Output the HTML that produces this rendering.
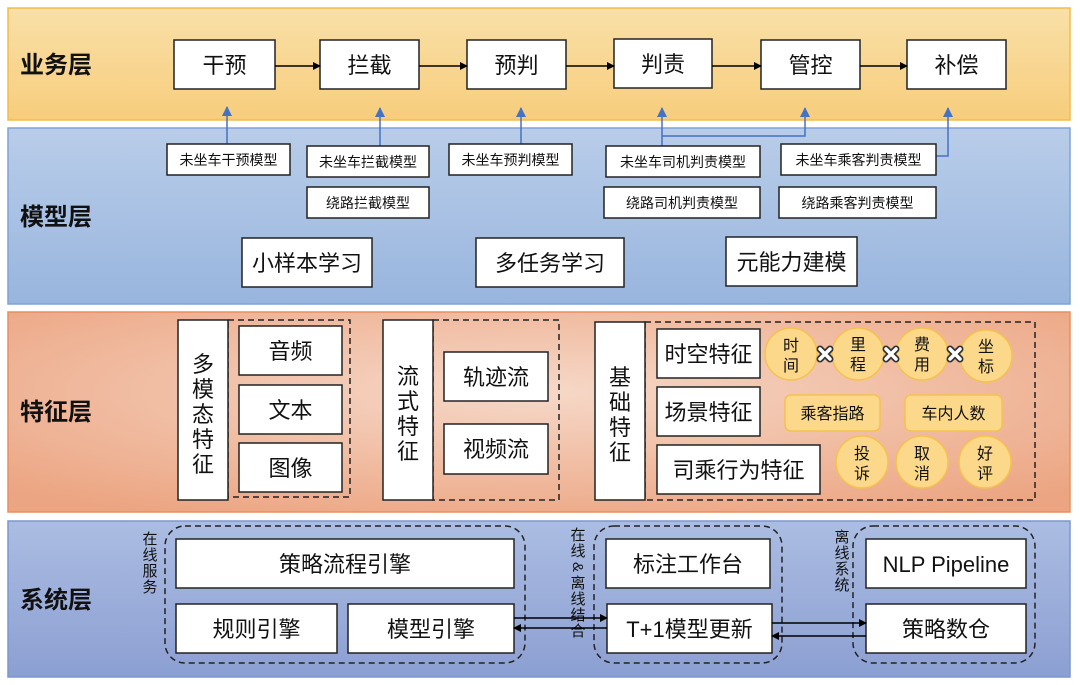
<!DOCTYPE html>
<html><head><meta charset="utf-8">
<style>
html,body{margin:0;padding:0;background:#fff;}
svg{display:block;}
text{font-family:"Liberation Sans","Noto Sans CJK SC",sans-serif;fill:#111;}
</style></head>
<body>
<svg width="1080" height="685" viewBox="0 0 1080 685" xmlns="http://www.w3.org/2000/svg">
<defs>
<linearGradient id="gY" x1="0" y1="0" x2="0" y2="1"><stop offset="0" stop-color="#f9e0a8"/><stop offset="1" stop-color="#f7cd7c"/></linearGradient>
<linearGradient id="gB" x1="0" y1="0" x2="0" y2="1"><stop offset="0" stop-color="#b9cde9"/><stop offset="1" stop-color="#98b5de"/></linearGradient>
<radialGradient id="gO" cx="0.5" cy="0.4" r="0.7"><stop offset="0" stop-color="#f6d8c8"/><stop offset="1" stop-color="#eca582"/></radialGradient>
<linearGradient id="gS" x1="0" y1="0" x2="0" y2="1"><stop offset="0" stop-color="#abbde2"/><stop offset="1" stop-color="#8c9fd2"/></linearGradient>
<marker id="ak" markerWidth="8" markerHeight="8" refX="7" refY="4" orient="auto" markerUnits="userSpaceOnUse"><path d="M0,0 L8,4 L0,8 z" fill="#000"/></marker>
<marker id="ab" markerWidth="10" markerHeight="10" refX="9" refY="5" orient="auto" markerUnits="userSpaceOnUse"><path d="M0,0 L10,5 L0,10 z" fill="#4472c4"/></marker>
</defs>

<rect x="8" y="8" width="1062" height="112" fill="url(#gY)" stroke="#f4bb48" stroke-width="1.5"/>
<rect x="8" y="128" width="1062" height="176" fill="url(#gB)" stroke="#7fa4d7" stroke-width="1.5"/>
<rect x="8" y="312" width="1062" height="200" fill="url(#gO)" stroke="#ea8e5e" stroke-width="1.5"/>
<rect x="8" y="521" width="1062" height="156" fill="url(#gS)" stroke="#7d96d0" stroke-width="1.5"/>

<g font-weight="bold" font-size="24">
<text x="20" y="73">业务层</text>
<text x="20" y="225">模型层</text>
<text x="20" y="420">特征层</text>
<text x="20" y="608">系统层</text>
</g>

<g fill="#fff" stroke="#222" stroke-width="1.5">
<rect x="174" y="40" width="101" height="49"/>
<rect x="320" y="40" width="99" height="49"/>
<rect x="467" y="40" width="99" height="49"/>
<rect x="614" y="39" width="98" height="49"/>
<rect x="761" y="40" width="99" height="49"/>
<rect x="907" y="40" width="99" height="49"/>
</g>
<g font-size="22" text-anchor="middle">
<text x="224.5" y="73">干预</text>
<text x="369.5" y="73">拦截</text>
<text x="516.5" y="73">预判</text>
<text x="663" y="72">判责</text>
<text x="810.5" y="73">管控</text>
<text x="956.5" y="73">补偿</text>
</g>
<g stroke="#000" stroke-width="1.5" marker-end="url(#ak)">
<line x1="275" y1="66" x2="320" y2="66"/>
<line x1="419" y1="66" x2="467" y2="66"/>
<line x1="566" y1="66" x2="614" y2="66"/>
<line x1="712" y1="66" x2="761" y2="66"/>
<line x1="860" y1="66" x2="907" y2="66"/>
</g>

<g stroke="#4472c4" stroke-width="1.5" fill="none" marker-end="url(#ab)">
<line x1="227" y1="144" x2="227" y2="107"/>
<line x1="380" y1="146" x2="380" y2="108"/>
<line x1="521" y1="144" x2="521" y2="108"/>
<line x1="662" y1="146" x2="662" y2="108"/>
<polyline points="662,136 805,136 805,108"/>
<polyline points="936,156 948,156 948,108"/>
</g>

<g fill="#fff" stroke="#222" stroke-width="1.5">
<rect x="167" y="144" width="123" height="31"/>
<rect x="307" y="146" width="122" height="31"/>
<rect x="307" y="187" width="122" height="31"/>
<rect x="449" y="144" width="123" height="31"/>
<rect x="606" y="146" width="154" height="31"/>
<rect x="604" y="187" width="156" height="31"/>
<rect x="781" y="144" width="155" height="31"/>
<rect x="779" y="187" width="157" height="31"/>
<rect x="242" y="238" width="130" height="49"/>
<rect x="476" y="238" width="148" height="49"/>
<rect x="726" y="237" width="131" height="49"/>
</g>
<g font-size="14" text-anchor="middle">
<text x="228.5" y="165">未坐车干预模型</text>
<text x="368" y="167">未坐车拦截模型</text>
<text x="368" y="208">绕路拦截模型</text>
<text x="510.5" y="165">未坐车预判模型</text>
<text x="683" y="167">未坐车司机判责模型</text>
<text x="682" y="208">绕路司机判责模型</text>
<text x="858.5" y="165">未坐车乘客判责模型</text>
<text x="857.5" y="208">绕路乘客判责模型</text>
</g>
<g font-size="22" text-anchor="middle">
<text x="307" y="271">小样本学习</text>
<text x="550" y="271">多任务学习</text>
<text x="791.5" y="270">元能力建模</text>
</g>

<g fill="none" stroke="#222" stroke-width="1.5" stroke-dasharray="6,4">
<rect x="228" y="320" width="122" height="177"/>
<rect x="433" y="320" width="126" height="180"/>
<rect x="645" y="322" width="390" height="178"/>
</g>
<g fill="#fff" stroke="#222" stroke-width="1.5">
<rect x="178" y="320" width="50" height="180"/>
<rect x="383" y="320" width="50" height="180"/>
<rect x="595" y="322" width="50" height="178"/>
<rect x="239" y="326" width="103" height="49"/>
<rect x="239" y="385" width="103" height="49"/>
<rect x="239" y="443" width="103" height="49"/>
<rect x="444" y="352" width="104" height="49"/>
<rect x="444" y="424" width="104" height="50"/>
<rect x="657" y="329" width="103" height="49"/>
<rect x="657" y="387" width="103" height="49"/>
<rect x="657" y="445" width="163" height="49"/>
</g>
<g font-size="22" text-anchor="middle">
<text x="203" y="372">多</text><text x="203" y="397">模</text><text x="203" y="422">态</text><text x="203" y="447">特</text><text x="203" y="472">征</text>
<text x="408" y="384">流</text><text x="408" y="409">式</text><text x="408" y="434">特</text><text x="408" y="459">征</text>
<text x="620" y="385">基</text><text x="620" y="410">础</text><text x="620" y="435">特</text><text x="620" y="460">征</text>
<text x="290.5" y="359">音频</text>
<text x="290.5" y="418">文本</text>
<text x="290.5" y="476">图像</text>
<text x="496" y="385">轨迹流</text>
<text x="496" y="457">视频流</text>
<text x="708.5" y="362">时空特征</text>
<text x="708.5" y="420">场景特征</text>
<text x="738.5" y="478">司乘行为特征</text>
</g>
<g fill="#fbd88a" stroke="#f5c24e" stroke-width="1.5">
<circle cx="791" cy="354" r="26"/>
<circle cx="858" cy="354" r="26"/>
<circle cx="922" cy="354" r="26"/>
<circle cx="986" cy="356" r="26"/>
<rect x="785" y="395" width="95" height="36" rx="6"/>
<rect x="905" y="395" width="97" height="36" rx="6"/>
<circle cx="862" cy="462" r="26"/>
<circle cx="922" cy="462" r="26"/>
<circle cx="985" cy="462" r="26"/>
</g>
<g font-size="16" text-anchor="middle">
<text x="791" y="351">时</text><text x="791" y="371">间</text>
<text x="858" y="350">里</text><text x="858" y="370">程</text>
<text x="922" y="350">费</text><text x="922" y="370">用</text>
<text x="986" y="352">坐</text><text x="986" y="372">标</text>
<text x="832.5" y="419">乘客指路</text>
<text x="953.5" y="419">车内人数</text>
<text x="862" y="459">投</text><text x="862" y="479">诉</text>
<text x="922" y="459">取</text><text x="922" y="479">消</text>
<text x="985" y="459">好</text><text x="985" y="479">评</text>
</g>
<g stroke="#333" stroke-width="7" stroke-linecap="round">
<path d="M820,349 l10,10 M830,349 l-10,10"/>
<path d="M886,349 l10,10 M896,349 l-10,10"/>
<path d="M950,349 l10,10 M960,349 l-10,10"/>
</g>
<g stroke="#fff" stroke-width="3.5" stroke-linecap="round">
<path d="M820,349 l10,10 M830,349 l-10,10"/>
<path d="M886,349 l10,10 M896,349 l-10,10"/>
<path d="M950,349 l10,10 M960,349 l-10,10"/>
</g>

<g fill="none" stroke="#222" stroke-width="1.5" stroke-dasharray="6,4">
<rect x="165" y="526" width="360" height="137" rx="20"/>
<rect x="594" y="526" width="188" height="137" rx="20"/>
<rect x="853" y="526" width="182" height="137" rx="20"/>
</g>
<g fill="#fff" stroke="#222" stroke-width="1.5">
<rect x="176" y="539" width="338" height="49"/>
<rect x="176" y="604" width="161" height="49"/>
<rect x="348" y="604" width="166" height="49"/>
<rect x="606" y="539" width="164" height="49"/>
<rect x="607" y="604" width="165" height="49"/>
<rect x="866" y="539" width="160" height="49"/>
<rect x="866" y="604" width="160" height="49"/>
</g>
<g font-size="22" text-anchor="middle">
<text x="345" y="572">策略流程引擎</text>
<text x="256.5" y="637">规则引擎</text>
<text x="431" y="637">模型引擎</text>
<text x="688" y="572">标注工作台</text>
<text x="689.5" y="637">T+1模型更新</text>
<text x="946" y="572">NLP Pipeline</text>
<text x="946" y="637">策略数仓</text>
</g>
<g font-size="15" text-anchor="middle" fill="#222">
<text x="150" y="544">在</text><text x="150" y="560">线</text><text x="150" y="576">服</text><text x="150" y="592">务</text>
<text x="578" y="540">在</text><text x="578" y="556">线</text>
<text x="578" y="572" transform="rotate(90 578 567)">&amp;</text>
<text x="578" y="588">离</text><text x="578" y="604">线</text><text x="578" y="620">结</text><text x="578" y="636">合</text>
<text x="842" y="542">离</text><text x="842" y="558">线</text><text x="842" y="574">系</text><text x="842" y="590">统</text>
</g>
<g stroke="#000" stroke-width="1.5" marker-end="url(#ak)">
<line x1="514" y1="618" x2="607" y2="618"/>
<line x1="607" y1="628" x2="514" y2="628"/>
<line x1="772" y1="623" x2="866" y2="623"/>
<line x1="866" y1="636" x2="772" y2="636"/>
</g>
</svg>
</body></html>
